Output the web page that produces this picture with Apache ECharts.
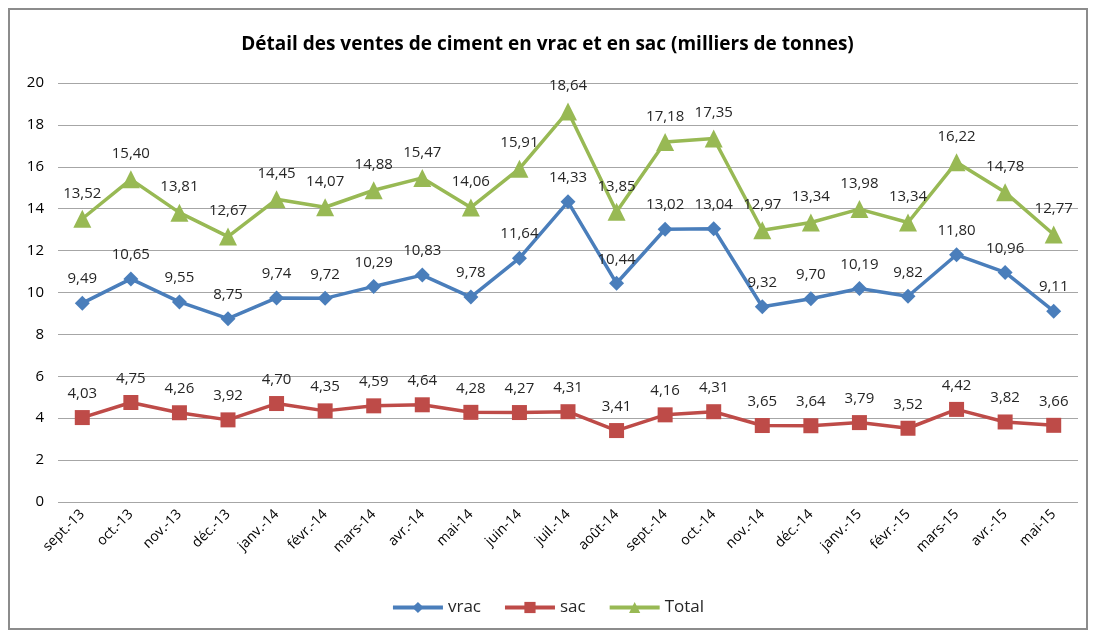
<!DOCTYPE html>
<html>
<head>
<meta charset="utf-8">
<script src="https://cdn.jsdelivr.net/npm/echarts@6/dist/echarts.min.js"></script>
<style>
html, body { margin: 0; padding: 0; background: #fff; }
#frame { position: absolute; left: 8px; top: 8px; width: 1080px; height: 622px; border: 2px solid #8c8c8c; box-sizing: border-box; }
#chart { position: absolute; left: 0; top: 0; width: 1095px; height: 635px; }
</style>
</head>
<body>
<div id="frame"></div>
<div id="chart"></div>
<script>
var months = ['sept.-13','oct.-13','nov.-13','déc.-13','janv.-14','févr.-14','mars-14','avr.-14','mai-14','juin-14','juil.-14','août-14','sept.-14','oct.-14','nov.-14','déc.-14','janv.-15','févr.-15','mars-15','avr.-15','mai-15'];
var vrac = [9.49,10.65,9.55,8.75,9.74,9.72,10.29,10.83,9.78,11.64,14.33,10.44,13.02,13.04,9.32,9.70,10.19,9.82,11.80,10.96,9.11];
var sac = [4.03,4.75,4.26,3.92,4.70,4.35,4.59,4.64,4.28,4.27,4.31,3.41,4.16,4.31,3.65,3.64,3.79,3.52,4.42,3.82,3.66];
var total = [13.52,15.40,13.81,12.67,14.45,14.07,14.88,15.47,14.06,15.91,18.64,13.85,17.18,17.35,12.97,13.34,13.98,13.34,16.22,14.78,12.77];

var fontFam = '"Open Sans", "Liberation Sans", sans-serif';

function lineSeries(name, data, color, symbol, size){
    return {
        name: name,
        type: 'line',
        data: data,
        symbol: symbol,
        symbolSize: size,
        lineStyle: { color: color, width: 3.5 },
        itemStyle: { color: color },
        label: {
            show: true,
            position: 'top',
            distance: 9,
            color: '#262626',
            fontSize: 15,
            fontFamily: fontFam,
            formatter: function(p){ return p.value.toFixed(2).replace('.', ','); }
        },
        animation: false
    };
}

var option = {
    title: {
        text: 'Détail des ventes de ciment en vrac et en sac (milliers de tonnes)',
        left: 'center',
        top: 30,
        textStyle: { fontSize: 19, fontWeight: 'bold', color: '#000', fontFamily: fontFam }
    },
    legend: {
        bottom: 14,
        left: 'center',
        itemWidth: 50,
        itemHeight: 14,
        itemGap: 22,
        lineStyle: { width: 4 },
        textStyle: { fontSize: 17, color: '#262626', fontFamily: fontFam },
        data: ['vrac','sac','Total']
    },
    grid: { left: 58, right: 17, top: 83, bottom: 133 },
    xAxis: {
        type: 'category',
        data: months,
        boundaryGap: true,
        axisLine: { show: false },
        axisTick: { show: false },
        axisLabel: { rotate: 45, fontSize: 14, color: '#000', fontFamily: fontFam, margin: 10, interval: 0 }
    },
    yAxis: {
        type: 'value',
        min: 0,
        max: 20,
        interval: 2,
        axisLine: { show: false },
        axisTick: { show: false },
        axisLabel: { fontSize: 15, color: '#000', fontFamily: fontFam, margin: 14 },
        splitLine: { lineStyle: { color: '#a6a6a6', width: 1 } }
    },
    series: [
        lineSeries('vrac', vrac, '#4a7ebb', 'diamond', 15),
        lineSeries('sac', sac, '#be4b48', 'rect', 15),
        lineSeries('Total', total, '#98b954', 'triangle', 18)
    ]
};

var myChart = echarts.init(document.getElementById('chart'));
myChart.setOption(option);
</script>
</body>
</html>
